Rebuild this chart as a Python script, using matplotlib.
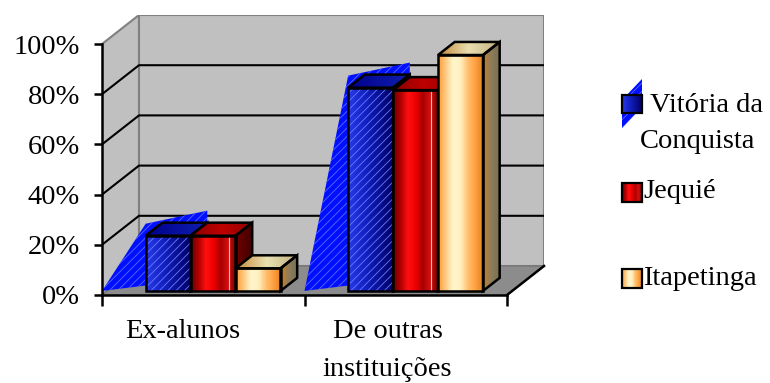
import numpy as np
import matplotlib.pyplot as plt
from matplotlib.patches import Polygon
from matplotlib.colors import LinearSegmentedColormap

categorias = ['Ex-alunos', 'De outras\ninstituições']
series = ['Vitória da Conquista', 'Jequié', 'Itapetinga']
vitoria = [22, 81]
jequie = [22, 80]
itapetinga = [9, 94]
yticks = [0, 20, 40, 60, 80, 100]
ylabels = ['0%', '20%', '40%', '60%', '80%', '100%']

plt.rcParams['font.family'] = ['Liberation Serif', 'DejaVu Serif']
plt.rcParams['hatch.linewidth'] = 0.6
FS = 20.5

W, H = 770, 383
fig = plt.figure(figsize=(7.7, 3.83), dpi=100)

# front plane in pixels, depth offset of the 3d box
fx0, fx1, fy0, fy1 = 102, 507, 295, 44
dpx, dpy = 37, 29
ax = fig.add_axes([fx0 / W, (H - fy0) / H, (fx1 - fx0 + dpx) / W, (fy0 - fy1 + dpy) / H])
ux = (fx1 - fx0) / 2.0
uy = (fy0 - fy1) / 100.0
DX = dpx / ux
DY = dpy / uy
ax.set_autoscale_on(False)
ax.set_xlim(0, 2 + DX)
ax.set_ylim(0, 100 + DY)
ax.patch.set_alpha(0)


def P(x, y, z):
    return (x + z * DX, y + z * DY)


def grad(a, pts, cols, z=2, vertical=False):
    pts = np.array(pts)
    poly = Polygon(pts, closed=True, fc='none', ec='none', zorder=z)
    a.add_patch(poly)
    cm = LinearSegmentedColormap.from_list('g', cols)
    g = np.linspace(0, 1, 256)
    img = g[:, None] if vertical else g[None, :]
    im = a.imshow(img, cmap=cm, extent=[pts[:, 0].min(), pts[:, 0].max(),
                                        pts[:, 1].min(), pts[:, 1].max()],
                  origin='lower', aspect='auto', interpolation='bilinear', zorder=z)
    im.set_clip_path(poly)


def outline(a, pts, z, lw=1.8):
    a.add_patch(Polygon(pts, closed=True, fc='none', ec='black', lw=lw, zorder=z))


# walls and floor
ax.add_patch(Polygon([(0, 0), (0, 100), (DX, 100 + DY), (DX, DY)], fc='#c0c0c0', ec='#808080', lw=1.5, zorder=0))
ax.add_patch(Polygon([(DX, DY), (DX, 100 + DY), (2 + DX, 100 + DY), (2 + DX, DY)], fc='#c0c0c0', ec='#808080', lw=1.5, zorder=0))
ax.add_patch(Polygon([(0, 0), (2, 0), (2 + DX, DY), (DX, DY)], fc='#8c8c8c', ec='#777777', lw=1, zorder=0.5))
ax.plot([2, 2 + DX], [0, DY], color='black', lw=1.8, zorder=0.6, clip_on=False)
for v in yticks[1:-1]:
    ax.plot([0, DX, 2 + DX], [v, v + DY, v + DY], color='black', lw=1.5, zorder=0.6)

# bars
z0, z1 = 0.14, 0.59
bw = 0.222
lift = 12 / uy
front_cols = [
    ['#2a3ae8', '#1424c8', '#0a1298', '#000060'],
    ['#6a0000', '#b00000', '#ff1010', '#f00000', '#a80000', '#d81010', '#700000'],
    ['#ff9a30', '#ffc880', '#fff6cc', '#fff0c0', '#ffc070', '#ffa040', '#e08428'],
]
top_cols = [['#00008a', '#1020b0'], ['#8a0000', '#c00000', '#900000'], ['#c88a3a', '#e8dfb0', '#c0b080']]
side_cols = [['#000070', '#000040'], ['#700000', '#400000'], ['#c8802a', '#8a7c5c', '#7a6e52']]
valores = [vitoria, jequie, itapetinga]

for i in range(len(categorias)):
    for k in range(len(series)):
        v = valores[k][i]
        x0 = i + 0.19 + k * bw
        x1 = x0 + bw
        zz = 3 + i * 10 + k * 3
        front = [P(x0, 0, z0), P(x1, 0, z0), P(x1, v, z0), P(x0, v, z0)]
        top = [P(x0, v, z0), P(x1, v, z0), P(x1, v, z1), P(x0, v, z1)]
        side = [P(x1, 0, z0), P(x1, 0, z1), P(x1, v, z1), P(x1, v, z0)]
        if k == 0:
            a = P(x0, v, z0)
            b = P(x1, v, z1)
            glitch = [(i, z0 * DY), (a[0], a[1] + lift), (b[0], b[1] + lift), P(x1, 0, z1)]
            ax.add_patch(Polygon(glitch, fc='#0010ff', ec='#5a6aff', hatch='////', lw=0, zorder=zz - 0.5))
        grad(ax, side, side_cols[k], z=zz)
        outline(ax, side, zz + 0.1)
        grad(ax, top, top_cols[k], z=zz)
        outline(ax, top, zz + 0.1)
        grad(ax, front, front_cols[k], z=zz)
        if k == 0:
            ax.add_patch(Polygon(front, fc='none', ec='#6a7aff', hatch='////', lw=0, zorder=zz + 0.05))
        if k == 1:
            xl = x0 + 0.85 * bw + z0 * DX
            ax.plot([xl, xl], [z0 * DY, v + z0 * DY], color='#f0c0c0', lw=0.8, zorder=zz + 0.05)
        outline(ax, front, zz + 0.1)

# axes
for s in ['top', 'right']:
    ax.spines[s].set_visible(False)
ax.spines['left'].set_bounds(0, 100)
ax.spines['bottom'].set_bounds(0, 2)
ax.spines['left'].set_linewidth(1.8)
ax.spines['bottom'].set_linewidth(1.8)
ax.spines['left'].set_zorder(50)
ax.spines['bottom'].set_zorder(50)
ax.set_yticks(yticks)
ax.set_yticklabels(ylabels, fontsize=FS)
ax.tick_params(axis='y', length=6, width=1.8, pad=10)
ax.set_xticks([0.4, 1.41])
ax.set_xticklabels(categorias, fontsize=FS, linespacing=1.68)
ax.tick_params(axis='x', which='major', length=0, pad=17)
ax.set_xticks([0, 1, 2], minor=True)
ax.tick_params(axis='x', which='minor', length=8, width=1.8, direction='out')

# legend
lax = fig.add_axes([0, 0, 1, 1])
lax.set_autoscale_on(False)
lax.set_xlim(0, W)
lax.set_ylim(H, 0)
lax.axis('off')
lx0, lx1 = 622, 642
lax.add_patch(Polygon([(lx0, 128), (lx0, 100), (lx1, 79), (lx1, 107)], fc='#0010ff', ec='#5a6aff', hatch='////', lw=0, zorder=2))
boxes = [(95, 113), (183, 202), (269, 288)]
for k in range(len(series)):
    y0, y1 = boxes[k]
    pts = [(lx0, y0), (lx1, y0), (lx1, y1), (lx0, y1)]
    grad(lax, pts, front_cols[k], z=3)
    outline(lax, pts, 4, lw=1.6)
lax.text(650, 112, 'Vitória da', fontsize=FS, va='baseline', ha='left')
lax.text(640, 148, 'Conquista', fontsize=FS, va='baseline', ha='left')
lax.text(643, 198, 'Jequié', fontsize=FS, va='baseline', ha='left')
lax.text(643, 285, 'Itapetinga', fontsize=FS, va='baseline', ha='left')

fig.savefig('out.png', dpi=100)
